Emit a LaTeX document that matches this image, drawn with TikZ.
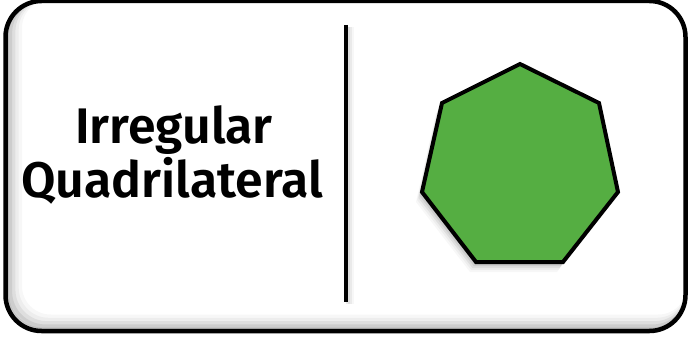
\documentclass[tikz,border=0pt]{standalone}
\usepackage{fontspec}
\setmainfont{Fira Sans}
\newfontfamily\lblfont{Fira Sans SemiBold}
\usetikzlibrary{shadows.blur}
\definecolor{hepgreen}{HTML}{55AE42}
\tikzset{
  frame/.style={draw=black, line width=4.5pt, rounded corners=36pt},
  divider/.style={draw=black, line width=3.5pt},
  hepta/.style={draw=black, line width=4pt, fill=hepgreen, line join=miter},
  label/.style={font=\lblfont\fontsize{50}{50}\selectfont, align=center, inner sep=0pt},
}
\begin{document}
\begin{tikzpicture}[x=1pt,y=-1pt]
\useasboundingbox (0,0) rectangle (689,345);
\fill[white] (0,0) rectangle (689,345);
% inner shadow of frame
\begin{scope}
  \clip[rounded corners=36pt] (5.5,1) rectangle (685.5,331);
  \foreach \d/\o in {3/0.10,6/0.08,9/0.06,12/0.04,15/0.03}{
    \draw[black, opacity=\o, line width=\d pt, rounded corners=36pt]
      (5.5+\d*0.6,1-\d*0.6) rectangle (685.5+\d*0.6,331-\d*0.6);
  }
\end{scope}
\draw[frame] (5.5,1) rectangle (685.5,331);
% divider with faint shadow
\foreach \d/\o in {2/0.08,4/0.05,6/0.03}{
  \draw[black, opacity=\o, line width=3.5pt] (346+\d,27) -- (346+\d,304);
}
\coordinate (dtop) at (346,25);
\coordinate (dbot) at (346,302);
\draw[divider] (dtop) -- (dbot);
% heptagon shadow
\foreach \d/\o in {2/0.10,4/0.08,6/0.06,8/0.04,10/0.03}{
  \fill[black, opacity=\o] (520-\d*0.6,64+\d) -- (599-\d*0.6,103+\d) -- (618-\d*0.6,192+\d) -- (563-\d*0.6,262+\d)
     -- (476-\d*0.6,262+\d) -- (422-\d*0.6,192+\d) -- (442-\d*0.6,103+\d) -- cycle;
}
\draw[hepta] (520,64) -- (599,103) -- (618,192) -- (563,262) -- (476,262) -- (422,192) -- (442,103) -- cycle;
\node[label, anchor=base] (t1) at (174,143) {Irregular};
\node[label, anchor=base] (t2) at (172,197) {Quadrilateral};
\end{tikzpicture}
\end{document}
